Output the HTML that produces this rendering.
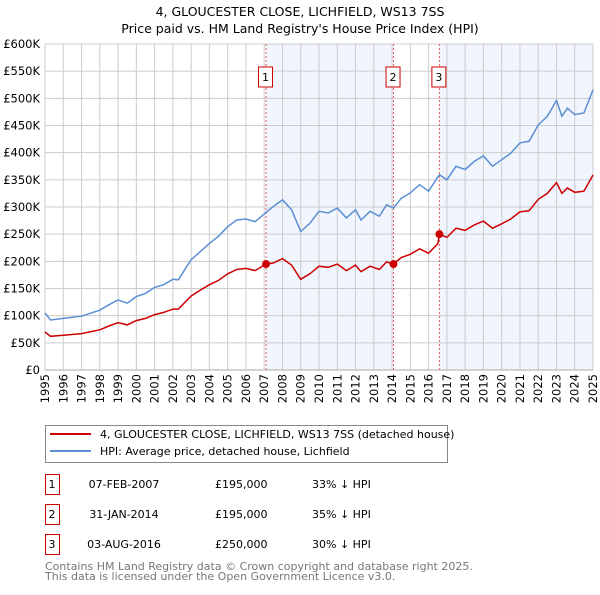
<!DOCTYPE html>
<html><head><meta charset="utf-8"><style>
body{margin:0;width:600px;height:590px;background:#fff;font-family:"Liberation Sans","DejaVu Sans",sans-serif;overflow:hidden}
svg text{font-family:"DejaVu Sans","Liberation Sans",sans-serif}
</style></head><body>
<svg id="chart" width="600" height="590" xmlns="http://www.w3.org/2000/svg">
<text x="300" y="16" text-anchor="middle" font-size="12.5">4, GLOUCESTER CLOSE, LICHFIELD, WS13 7SS</text>
<text x="300" y="33" text-anchor="middle" font-size="12.5">Price paid vs. HM Land Registry's House Price Index (HPI)</text>
<g id="plot"></g>
<g>
<rect x="45.5" y="425.5" width="402" height="37" fill="#fff" stroke="#888"/>
<line x1="50" y1="434" x2="91" y2="434" stroke="#cc0000" stroke-width="2"/>
<text x="100" y="438" font-size="11">4, GLOUCESTER CLOSE, LICHFIELD, WS13 7SS (detached house)</text>
<line x1="50" y1="451" x2="91" y2="451" stroke="#5b8fd4" stroke-width="2"/>
<text x="100" y="455" font-size="11">HPI: Average price, detached house, Lichfield</text>
</g>
<g id="table" font-size="11"></g>
<text x="45" y="570" font-size="11" fill="#777">Contains HM Land Registry data © Crown copyright and database right 2025.</text>
<text x="45" y="580" font-size="11" fill="#777">This data is licensed under the Open Government Licence v3.0.</text>
</svg>
<script>
const hpiYears=[1995,1995.3,1996,1997,1998,1998.5,1999,1999.5,2000,2000.5,2001,2001.5,2002,2002.3,2003,2003.5,2004,2004.5,2005,2005.5,2006,2006.5,2007.1,2007.5,2008,2008.5,2009,2009.5,2010,2010.5,2011,2011.5,2012,2012.3,2012.8,2013.3,2013.7,2014.08,2014.5,2015,2015.5,2016,2016.5,2016.6,2017,2017.5,2018,2018.5,2019,2019.5,2020,2020.5,2021,2021.5,2022,2022.5,2023,2023.3,2023.6,2024,2024.5,2024.9,2025];
const hpiValues=[105,92,95,99,110,120,129,123,135,141,152,157,167,166,203,218,233,246,264,276,278,273,290,301,313,295,255,270,292,289,298,280,295,276,292,283,304,298,316,326,341,329,355,359,350,375,369,384,394,375,387,399,418,421,451,467,496,467,482,470,473,507,516];
const priceValues=[70,62,64,67,74,81,87,83,91,95,102,106,112,112,136,147,157,165,177,185,187,183,195,197,205,193,167,177,191,189,195,183,193,181,191,185,199,195,207,213,223,215,232,250,244,261,257,267,274,261,269,278,291,293,314,325,345,325,335,327,329,353,359];
const saleYears=[2007.1,2014.08,2016.59];
const salePrices=[195,195,250];
const saleLabels=["1","2","3"];
const saleDates=["07-FEB-2007","31-JAN-2014","03-AUG-2016"];
const salePriceText=["£195,000","£195,000","£250,000"];
const saleHpiText=["33% ↓ HPI","35% ↓ HPI","30% ↓ HPI"];
const yTicks=[0,50,100,150,200,250,300,350,400,450,500,550,600];
const xTicks=[1995,1996,1997,1998,1999,2000,2001,2002,2003,2004,2005,2006,2007,2008,2009,2010,2011,2012,2013,2014,2015,2016,2017,2018,2019,2020,2021,2022,2023,2024,2025];

const NS="http://www.w3.org/2000/svg";
const X0=45,X1=593,Y0=370,Y1=44;
const xs=y=>X0+(y-1995)/30*(X1-X0);
const ys=v=>Y0-v/600*(Y0-Y1);
const plot=document.getElementById('plot');
function mk(tag,attrs,parent){const e=document.createElementNS(NS,tag);for(const k in attrs)e.setAttribute(k,attrs[k]);(parent||plot).appendChild(e);return e;}
// shading
let sh1=mk('rect',{x:xs(saleYears[0]),y:Y1,width:xs(saleYears[1])-xs(saleYears[0]),height:Y0-Y1,fill:'#eef3fc',opacity:0.8});


let sh2=mk('rect',{x:xs(saleYears[2]),y:Y1,width:X1-xs(saleYears[2]),height:Y0-Y1,fill:'#eef3fc',opacity:0.8});


xTicks.forEach(t=>{
 let l=mk('line',{x1:xs(t),x2:xs(t),y1:Y1,y2:Y0,stroke:'#cccccc','stroke-width':1});
 
 
 let tx=mk('text',{x:0,y:0,'font-size':11.5,'text-anchor':'end',transform:`translate(${xs(t)+4},${Y0+4}) rotate(-90)`});
 tx.textContent=t;
 
 
});
yTicks.forEach(t=>{
 let l=mk('line',{x1:X0,x2:X1,y1:ys(t),y2:ys(t),stroke:'#cccccc','stroke-width':1});
 
 
 let tx=mk('text',{x:X0-5,y:ys(t)+4,'font-size':11.5,'text-anchor':'end'});
 tx.textContent='£'+(t===0?'0':t+'K');
 
 
});
saleYears.forEach((s,i)=>{
 let l=mk('line',{x1:xs(s),x2:xs(s),y1:Y1,y2:Y0,stroke:'#e06060','stroke-width':1,'stroke-dasharray':'2,2'});
 
 
 let r=mk('rect',{x:xs(s)-7.5,y:67,width:14,height:20,fill:'#fff',stroke:'#cc0000'});
 
 
 let t=mk('text',{x:xs(s)-0.5,y:81,'font-size':11,'text-anchor':'middle'});
 t.textContent=saleLabels[i];
 
 
});
const pts=(v)=>hpiYears.map((y,i)=>xs(y).toFixed(1)+','+ys(v[i]).toFixed(1)).join(' ');
let hp=mk('polyline',{points:pts(hpiValues),fill:'none',stroke:'#5b8fd4','stroke-width':1.5});


let pp=mk('polyline',{points:pts(priceValues),fill:'none',stroke:'#cc0000','stroke-width':1.5});


saleYears.forEach((s,i)=>{
 let c=mk('circle',{cx:xs(s),cy:ys(salePrices[i]),r:4,fill:'#cc0000'});
 
 
});
let ax=mk('line',{x1:X0,x2:X1,y1:Y0,y2:Y0,stroke:'#aaa'});


const tb=document.getElementById('table');
saleYears.forEach((s,i)=>{
 const y=477+i*30;
 let r=mk('rect',{x:45.5,y:y-2.5,width:14,height:20,fill:'#fff',stroke:'#cc0000'},tb);
 
 
 const cells=[[52,saleLabels[i],'middle'],[124,saleDates[i],'middle'],[215,salePriceText[i],'start'],[312,saleHpiText[i],'start']];
 cells.forEach(c=>{
  let t=mk('text',{x:c[0],y:y+11,'text-anchor':c[2],'font-size':11},tb);
  t.textContent=c[1];
  
  
 });
});
</script>
</body></html>
